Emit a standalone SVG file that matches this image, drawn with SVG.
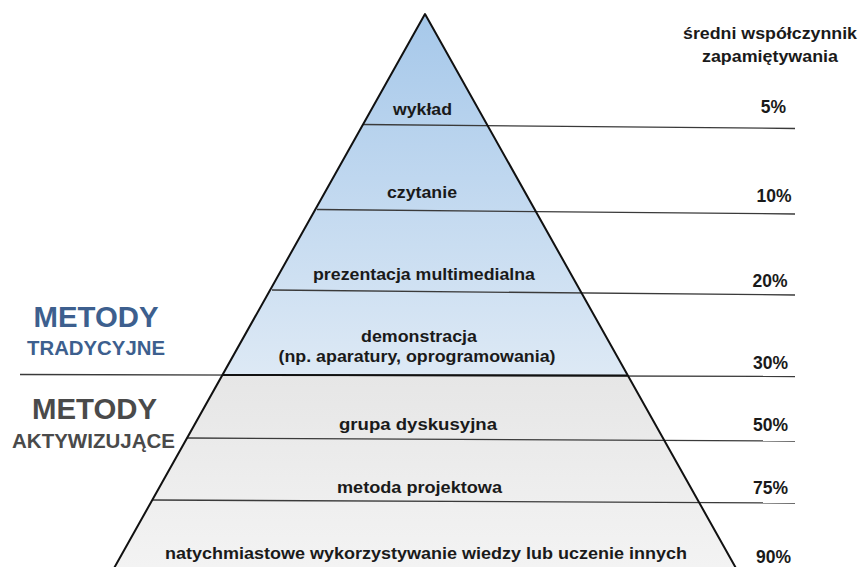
<svg xmlns="http://www.w3.org/2000/svg" width="860" height="567" viewBox="0 0 860 567">
  <defs>
    <linearGradient id="blueFill" x1="0" y1="14" x2="0" y2="375" gradientUnits="userSpaceOnUse">
      <stop offset="0" stop-color="#a6c8ea"/>
      <stop offset="1" stop-color="#dde9f5"/>
    </linearGradient>
    <linearGradient id="grayFill" x1="0" y1="375" x2="0" y2="567" gradientUnits="userSpaceOnUse">
      <stop offset="0" stop-color="#e6e6e6"/>
      <stop offset="1" stop-color="#f3f3f3"/>
    </linearGradient>
    <style>
      text { font-family: "Liberation Sans", Arial, sans-serif; font-weight: bold; }
      .lbl { font-size: 17px; fill: #1a1a1a; text-anchor: middle; }
      .pct { font-size: 17.5px; fill: #1a1a1a; text-anchor: middle; }
      .sep { stroke: #3a3a3a; stroke-width: 1.3; fill: none; }
      .edge { stroke: #111; stroke-width: 2; fill: none; stroke-linejoin: round; }
      .big { font-size: 29px; text-anchor: middle; }
      .sub { font-size: 20px; text-anchor: middle; }
    </style>
  </defs>
  <rect width="860" height="567" fill="#ffffff"/>

  <!-- pyramid body: blue upper part, gray lower part -->
  <g id="pyramid">
    <polygon points="425,14 627,375 223,375" fill="url(#blueFill)"/>
    <polygon points="223,375 627,375 737,570 113,570" fill="url(#grayFill)"/>
  </g>

  <!-- level separators running out to the percentage column -->
  <g id="connectors">
    <line class="sep" x1="363" y1="124.5" x2="795" y2="128.5"/>
    <line class="sep" x1="317" y1="209.5" x2="795" y2="214"/>
    <line class="sep" x1="272" y1="290" x2="795" y2="295"/>
    <line class="sep" x1="20" y1="374.5" x2="795" y2="376.5" stroke-width="1.5"/>
    <line x1="223" y1="375" x2="627" y2="375.5" stroke="#111" stroke-width="2"/>
    <line class="sep" x1="187" y1="438" x2="795" y2="441"/>
    <line class="sep" x1="152" y1="500" x2="795" y2="503"/>
  </g>

  <g id="outline">
    <polyline class="edge" points="113,570 425,14 737,570"/>
  </g>

  <!-- level labels -->
  <g id="level-wyklad"><text class="lbl" x="422.5" y="115" textLength="59" lengthAdjust="spacingAndGlyphs">wykład</text></g>
  <g id="level-czytanie"><text class="lbl" x="422" y="198" textLength="70" lengthAdjust="spacingAndGlyphs">czytanie</text></g>
  <g id="level-prezentacja"><text class="lbl" x="424" y="280" textLength="222" lengthAdjust="spacingAndGlyphs">prezentacja multimedialna</text></g>
  <g id="level-demonstracja">
    <text class="lbl" x="419" y="342" textLength="116" lengthAdjust="spacingAndGlyphs">demonstracja</text>
    <text class="lbl" x="417" y="362" textLength="277" lengthAdjust="spacingAndGlyphs">(np. aparatury, oprogramowania)</text>
  </g>
  <g id="level-grupa"><text class="lbl" x="418" y="430" textLength="158" lengthAdjust="spacingAndGlyphs">grupa dyskusyjna</text></g>
  <g id="level-projekt"><text class="lbl" x="419.5" y="493" textLength="165" lengthAdjust="spacingAndGlyphs">metoda projektowa</text></g>
  <g id="level-natychmiastowe"><text class="lbl" x="426" y="559" textLength="522" lengthAdjust="spacingAndGlyphs">natychmiastowe wykorzystywanie wiedzy lub uczenie innych</text></g>

  <!-- retention column -->
  <g id="header">
    <text class="lbl" x="770" y="39" textLength="174" lengthAdjust="spacingAndGlyphs">średni współczynnik</text>
    <text class="lbl" x="770" y="62" textLength="136" lengthAdjust="spacingAndGlyphs">zapamiętywania</text>
  </g>
  <g id="percentages">
    <text class="pct" x="773.5" y="113">5%</text>
    <text class="pct" x="774" y="202">10%</text>
    <text class="pct" x="770" y="287">20%</text>
    <text class="pct" x="770.5" y="369">30%</text>
    <text class="pct" x="770.5" y="431">50%</text>
    <text class="pct" x="770.5" y="494">75%</text>
    <text class="pct" x="773.5" y="563">90%</text>
  </g>

  <!-- method groups -->
  <g id="group-tradycyjne">
    <text class="big" x="96" y="327" fill="#3d5f8e" textLength="125" lengthAdjust="spacingAndGlyphs">METODY</text>
    <text class="sub" x="96" y="355" fill="#3d5f8e" textLength="138" lengthAdjust="spacingAndGlyphs">TRADYCYJNE</text>
  </g>
  <g id="group-aktywizujace">
    <text class="big" x="94.5" y="419" fill="#4a4a4a" textLength="125" lengthAdjust="spacingAndGlyphs">METODY</text>
    <text class="sub" x="93.5" y="448" fill="#4a4a4a" textLength="163" lengthAdjust="spacingAndGlyphs">AKTYWIZUJĄCE</text>
  </g>
</svg>
